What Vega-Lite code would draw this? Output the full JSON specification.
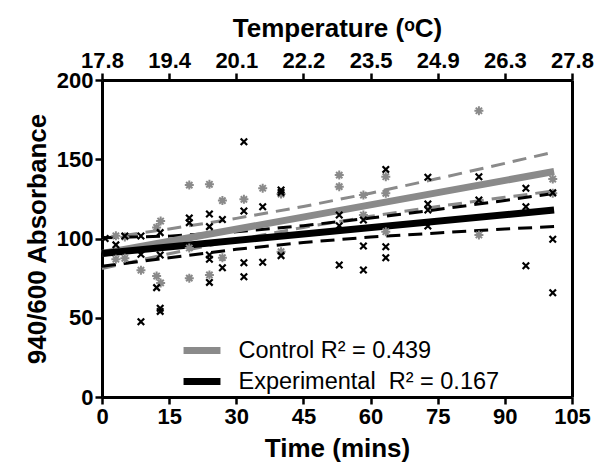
{
  "$schema": "https://vega.github.io/schema/vega-lite/v6.json",
  "autosize": {"type": "none"},
  "padding": {"left": 102, "top": 80, "right": 29, "bottom": 77},
  "width": 470,
  "height": 317,
  "background": "white",
  "config": {
    "view": {"stroke": null},
    "font": "Liberation Sans",
    "axis": {
      "labelFont": "Liberation Sans", "labelFontWeight": "bold", "labelFontSize": 22, "labelColor": "black",
      "titleFont": "Liberation Sans", "titleFontWeight": "bold", "titleFontSize": 26, "titleColor": "black",
      "domainColor": "black", "domainWidth": 3, "tickColor": "black", "tickWidth": 2.5, "tickSize": 7,
      "grid": false, "labelPadding": 2, "labelFlush": false, "labelOverlap": false
    }
  },
  "datasets": {
    "fit": [
      {"series": "Control R² = 0.439", "t": 0, "v": 90.5},
      {"series": "Control R² = 0.439", "t": 101, "v": 142.3},
      {"series": "Experimental \u00a0R² = 0.167", "t": 0, "v": 90.6},
      {"series": "Experimental \u00a0R² = 0.167", "t": 101, "v": 118}
    ],
    "ci": [
      {"grp": "Control", "band": "upper", "t": 0, "v": 100},
      {"grp": "Control", "band": "upper", "t": 15, "v": 106},
      {"grp": "Control", "band": "upper", "t": 30, "v": 112.7},
      {"grp": "Control", "band": "upper", "t": 45, "v": 120.2},
      {"grp": "Control", "band": "upper", "t": 60, "v": 128.6},
      {"grp": "Control", "band": "upper", "t": 75, "v": 137.8},
      {"grp": "Control", "band": "upper", "t": 90, "v": 147.4},
      {"grp": "Control", "band": "upper", "t": 101, "v": 154.6},
      {"grp": "Control", "band": "lower", "t": 0, "v": 81},
      {"grp": "Control", "band": "lower", "t": 15, "v": 90.4},
      {"grp": "Control", "band": "lower", "t": 30, "v": 99.1},
      {"grp": "Control", "band": "lower", "t": 45, "v": 107},
      {"grp": "Control", "band": "lower", "t": 60, "v": 114},
      {"grp": "Control", "band": "lower", "t": 75, "v": 120.2},
      {"grp": "Control", "band": "lower", "t": 90, "v": 126},
      {"grp": "Control", "band": "lower", "t": 101, "v": 130},
      {"grp": "Experimental", "band": "upper", "t": 0, "v": 100.5},
      {"grp": "Experimental", "band": "upper", "t": 15, "v": 101.5},
      {"grp": "Experimental", "band": "upper", "t": 30, "v": 104.2},
      {"grp": "Experimental", "band": "upper", "t": 45, "v": 108.1},
      {"grp": "Experimental", "band": "upper", "t": 60, "v": 112.9},
      {"grp": "Experimental", "band": "upper", "t": 75, "v": 118.3},
      {"grp": "Experimental", "band": "upper", "t": 90, "v": 124},
      {"grp": "Experimental", "band": "upper", "t": 101, "v": 128.5},
      {"grp": "Experimental", "band": "lower", "t": 0, "v": 82.5},
      {"grp": "Experimental", "band": "lower", "t": 15, "v": 87.9},
      {"grp": "Experimental", "band": "lower", "t": 30, "v": 93.2},
      {"grp": "Experimental", "band": "lower", "t": 45, "v": 97.5},
      {"grp": "Experimental", "band": "lower", "t": 60, "v": 100.9},
      {"grp": "Experimental", "band": "lower", "t": 75, "v": 103.5},
      {"grp": "Experimental", "band": "lower", "t": 90, "v": 106},
      {"grp": "Experimental", "band": "lower", "t": 101, "v": 107.5}
    ],
    "ctrl": [
      {"t": 3.1, "v": 101.7}, {"t": 3.1, "v": 86.9}, {"t": 5.1, "v": 101}, {"t": 5.1, "v": 87.5},
      {"t": 8.7, "v": 80}, {"t": 12.2, "v": 107}, {"t": 13.1, "v": 111}, {"t": 12.2, "v": 76.3},
      {"t": 13.1, "v": 72}, {"t": 19.5, "v": 133.7}, {"t": 19.5, "v": 94}, {"t": 19.5, "v": 75},
      {"t": 24, "v": 134.2}, {"t": 26.9, "v": 123.9}, {"t": 31.7, "v": 124.7}, {"t": 35.9, "v": 131.7},
      {"t": 40, "v": 128}, {"t": 26.9, "v": 87.9}, {"t": 24, "v": 77}, {"t": 40, "v": 91.7},
      {"t": 53, "v": 140}, {"t": 53, "v": 132.7}, {"t": 58.4, "v": 127.4}, {"t": 63.4, "v": 139},
      {"t": 63.4, "v": 128.5}, {"t": 58.4, "v": 114.8}, {"t": 63.4, "v": 104.3}, {"t": 84.2, "v": 180.6},
      {"t": 84.2, "v": 102.2}, {"t": 100.7, "v": 137.5}, {"t": 100.7, "v": 128.5}
    ],
    "expt": [
      {"t": 0.7, "v": 100}, {"t": 3.1, "v": 96}, {"t": 5.1, "v": 101.6}, {"t": 8.7, "v": 101.6},
      {"t": 8.7, "v": 90}, {"t": 13, "v": 103.7}, {"t": 13, "v": 89.6}, {"t": 12.2, "v": 69},
      {"t": 13, "v": 54}, {"t": 13, "v": 56}, {"t": 8.7, "v": 47.5}, {"t": 19.5, "v": 110},
      {"t": 19.5, "v": 113}, {"t": 31.7, "v": 161}, {"t": 24, "v": 115.5}, {"t": 24, "v": 107.5},
      {"t": 26.9, "v": 112}, {"t": 31.7, "v": 117.4}, {"t": 35.9, "v": 120}, {"t": 40, "v": 130.6},
      {"t": 40, "v": 129}, {"t": 24, "v": 89.6}, {"t": 24, "v": 86.9}, {"t": 24, "v": 72.3},
      {"t": 26.9, "v": 81.6}, {"t": 31.7, "v": 84.7}, {"t": 31.7, "v": 75.9}, {"t": 35.9, "v": 85},
      {"t": 40, "v": 89.2}, {"t": 53, "v": 114.8}, {"t": 53, "v": 108}, {"t": 53, "v": 83.3},
      {"t": 58.4, "v": 111.7}, {"t": 58.4, "v": 95.3}, {"t": 58.4, "v": 80.1}, {"t": 63.4, "v": 143.6},
      {"t": 63.4, "v": 94.8}, {"t": 63.4, "v": 87.9}, {"t": 72.8, "v": 138.6}, {"t": 72.8, "v": 121.8},
      {"t": 72.8, "v": 118}, {"t": 72.8, "v": 107.9}, {"t": 84.2, "v": 139}, {"t": 84.2, "v": 124.3},
      {"t": 94.7, "v": 131.7}, {"t": 94.7, "v": 120}, {"t": 94.7, "v": 82.8}, {"t": 100.7, "v": 128.9},
      {"t": 100.7, "v": 99.5}, {"t": 100.7, "v": 65.8}
    ]
  },
  "resolve": {"axis": {"x": "independent", "y": "independent"}},
  "layer": [
    {
      "data": {"name": "ci"},
      "transform": [{"filter": "datum.grp == 'Control'"}],
      "mark": {"type": "line", "color": "#8a8a8a", "strokeWidth": 3, "strokeDash": [14, 8]},
      "encoding": {
        "x": {"field": "t", "type": "quantitative", "scale": {"domain": [0, 105], "nice": false},
          "axis": {"orient": "top", "values": [0, 15, 30, 45, 60, 75, 90, 105],
            "labelExpr": "['17.8','19.4','20.1','22.2','23.5','24.9','26.3','27.8'][round(datum.value/15)]",
            "title": "Temperature (ᵒC)", "titlePadding": 8, "labelPadding": 1}},
        "y": {"field": "v", "type": "quantitative", "scale": {"domain": [0, 200], "nice": false},
          "axis": {"orient": "right", "labels": false, "ticks": false, "title": null, "values": [0, 200]}},
        "detail": {"field": "band"}
      }
    },
    {
      "data": {"name": "ci"},
      "transform": [{"filter": "datum.grp == 'Experimental'"}],
      "mark": {"type": "line", "color": "black", "strokeWidth": 3, "strokeDash": [14, 8]},
      "encoding": {
        "x": {"field": "t", "type": "quantitative", "axis": null},
        "y": {"field": "v", "type": "quantitative", "axis": null},
        "detail": {"field": "band"}
      }
    },
    {
      "data": {"name": "fit"},
      "mark": {"type": "line", "strokeWidth": 7},
      "encoding": {
        "x": {"field": "t", "type": "quantitative",
          "axis": {"orient": "bottom", "values": [0, 15, 30, 45, 60, 75, 90, 105], "title": "Time (mins)", "titlePadding": 8}},
        "y": {"field": "v", "type": "quantitative",
          "axis": {"orient": "left", "values": [0, 50, 100, 150, 200], "title": "940/600 Absorbance", "titlePadding": 6}},
        "color": {"field": "series", "type": "nominal",
          "scale": {"domain": ["Control R² = 0.439", "Experimental \u00a0R² = 0.167"], "range": ["#8a8a8a", "black"]},
          "legend": {"orient": "none", "legendX": 83.5, "legendY": 254, "title": null, "padding": 0,
            "symbolType": "M-1.42,0H1.42", "symbolSize": 676, "symbolStrokeWidth": 7, "symbolFillColor": null,
            "labelFont": "Liberation Sans", "labelFontSize": 23.5, "labelColor": "black", "labelOffset": 20,
            "rowPadding": 0, "labelLimit": 400}}
      }
    },
    {
      "data": {"name": "ctrl"},
      "mark": {"type": "point", "shape": "M-1,0L1,0M0,-1L0,1M-0.7,-0.7L0.7,0.7M-0.7,0.7L0.7,-0.7", "size": 81, "filled": false, "stroke": "#8a8a8a", "strokeWidth": 2, "opacity": 1},
      "encoding": {
        "x": {"field": "t", "type": "quantitative", "axis": null},
        "y": {"field": "v", "type": "quantitative", "axis": null}
      }
    },
    {
      "data": {"name": "expt"},
      "mark": {"type": "point", "shape": "M-1,-1L1,1M-1,1L1,-1", "size": 42, "filled": false, "stroke": "black", "strokeWidth": 2.2, "opacity": 1},
      "encoding": {
        "x": {"field": "t", "type": "quantitative", "axis": null},
        "y": {"field": "v", "type": "quantitative", "axis": null}
      }
    }
  ]
}
